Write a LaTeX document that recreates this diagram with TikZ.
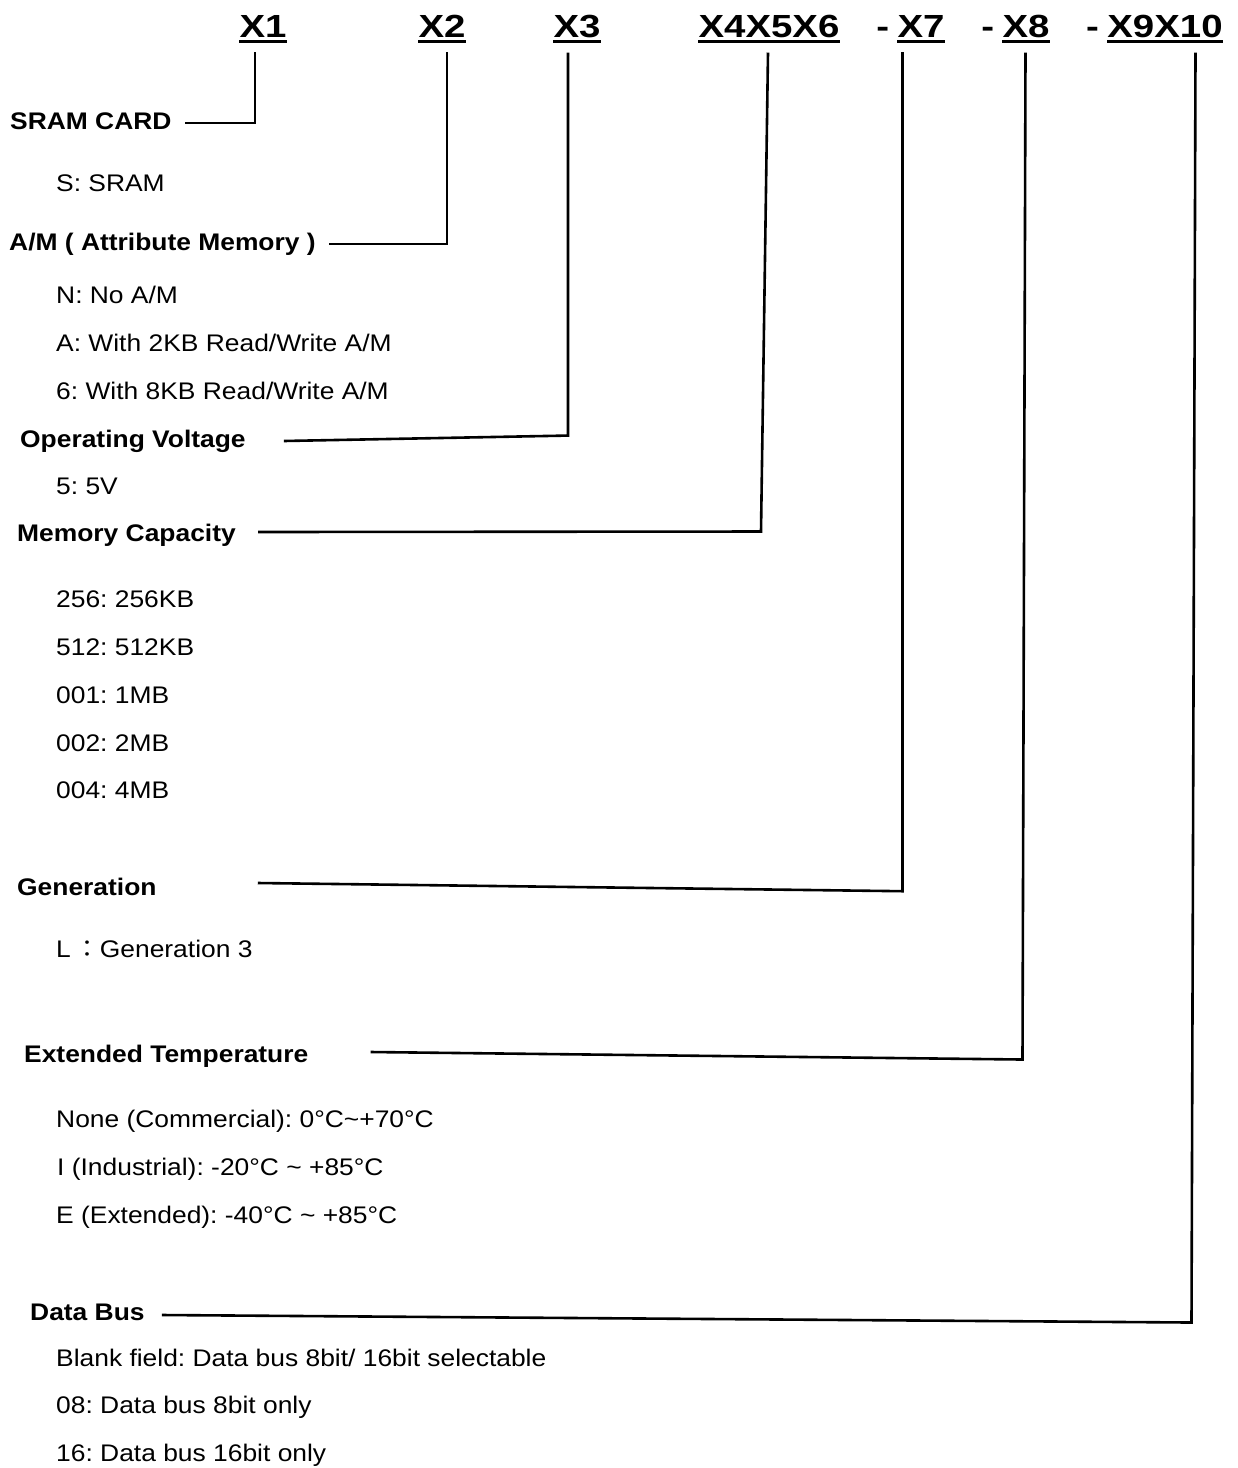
\documentclass[tikz,border=0pt]{standalone}
\usepackage{fontspec}
\setmainfont{Liberation Sans}[FakeStretch=1.1]
\newfontfamily\hdrfont{Liberation Sans}[FakeStretch=1.2]
\newfontfamily\cjk{Noto Sans CJK TC}
\usetikzlibrary{positioning}
\frenchspacing

\begin{document}
\begin{tikzpicture}[
    x=1pt, y=-1pt,
    hdr/.style={inner sep=0pt, anchor=base, font=\hdrfont\fontsize{32}{36}\selectfont\bfseries},
    lbl/.style={inner sep=0pt, anchor=base west, font=\fontsize{24}{28}\selectfont\bfseries},
    item/.style={inner sep=0pt, anchor=base west, font=\fontsize{24}{28}\selectfont},
    conn/.style={line width=2.6pt, line join=miter},
    uline/.style={line width=3.2pt}
]
    \useasboundingbox (0,0) rectangle (1238,1468);

    % part number fields
    \node[hdr] (x1) at (263,37) {X1};
    \node[hdr] (x2) at (442,37) {X2};
    \node[hdr] (x3) at (577,37) {X3};
    \node[hdr] (x456) at (769,37) {X4X5X6};
    \node[hdr] (x7) at (921,37) {X7};
    \node[hdr] (x8) at (1026,37) {X8};
    \node[hdr] (x910) at (1165,37) {X9X10};
    \node[hdr, base left=8pt of x7] (d7) {-};
    \node[hdr, base left=8pt of x8] (d8) {-};
    \node[hdr, base left=8pt of x910] (d910) {-};
    \foreach \n in {x1,x2,x3,x456,x7,x8,x910}
        \draw[uline] ([yshift=-4.7pt]\n.base west) -- ([yshift=-4.7pt]\n.base east);

    % field descriptions
    \node[lbl] (sram) at (10,129) {SRAM CARD};
    \node[item] (s1) at (56,191.5) {S: SRAM};
    \node[lbl] (am) at (9,250.5) {A/M ( Attribute Memory )};
    \node[item] (a1) at (56,303.5) {N: No A/M};
    \node[item] (a2) at (56,351.5) {A: With 2KB Read/Write A/M};
    \node[item] (a3) at (56,399.5) {6: With 8KB Read/Write A/M};
    \node[lbl] (opv) at (20,447.5) {Operating Voltage};
    \node[item] (v1) at (56,494.5) {5: 5V};
    \node[lbl] (memcap) at (17,541.5) {Memory Capacity};
    \node[item] (m1) at (56,607.5) {256: 256KB};
    \node[item] (m2) at (56,655.5) {512: 512KB};
    \node[item] (m3) at (56,703.5) {001: 1MB};
    \node[item] (m4) at (56,751.5) {002: 2MB};
    \node[item] (m5) at (56,798.5) {004: 4MB};
    \node[lbl] (gen) at (17,895.5) {Generation};
    \node[item] (g1) at (56,957.5) {L\hspace{5pt}{\cjk ：}Generation 3};
    \node[lbl] (extemp) at (24,1062.5) {Extended Temperature};
    \node[item] (t1) at (56,1127.5) {None (Commercial): 0°C\textasciitilde+70°C};
    \node[item] (t2) at (57,1175.5) {I (Industrial): -20°C \textasciitilde{} +85°C};
    \node[item] (t3) at (56,1223.5) {E (Extended): -40°C \textasciitilde{} +85°C};
    \node[lbl] (databus) at (30,1320.5) {Data Bus};
    \node[item] (b1) at (56,1366.5) {Blank field: Data bus 8bit/ 16bit selectable};
    \node[item] (b2) at (56,1413.5) {08: Data bus 8bit only};
    \node[item] (b3) at (56,1461.5) {16: Data bus 16bit only};

    % leader lines
    \draw[conn] ([xshift=-8pt,yshift=-15pt]x1.south) |- ([xshift=13pt,yshift=6pt]sram.base east);
    \draw[conn] ([xshift=5pt,yshift=-15pt]x2.south) |- ([xshift=13pt,yshift=6.5pt]am.base east);
    \draw[conn] ([xshift=-9pt,yshift=-15pt]x3.south) -- ++(0,383) -- ([xshift=38pt,yshift=6.5pt]opv.base east);
    \draw[conn] ([xshift=-1pt,yshift=-15pt]x456.south) -- ++(-7,479) -- ([xshift=22pt,yshift=9.5pt]memcap.base east);
    \draw[conn] ([xshift=-18.5pt,yshift=-15pt]x7.south) -- ++(0,839) -- ([xshift=101pt,yshift=12.5pt]gen.base east);
    \draw[conn] ([xshift=-0.5pt,yshift=-15pt]x8.south) -- ++(-3,1007) -- ([xshift=62pt,yshift=10.5pt]extemp.base east);
    \draw[conn] ([xshift=30.5pt,yshift=-15pt]x910.south) -- ++(-4,1270) -- ([xshift=17pt,yshift=5.5pt]databus.base east);
\end{tikzpicture}
\end{document}
